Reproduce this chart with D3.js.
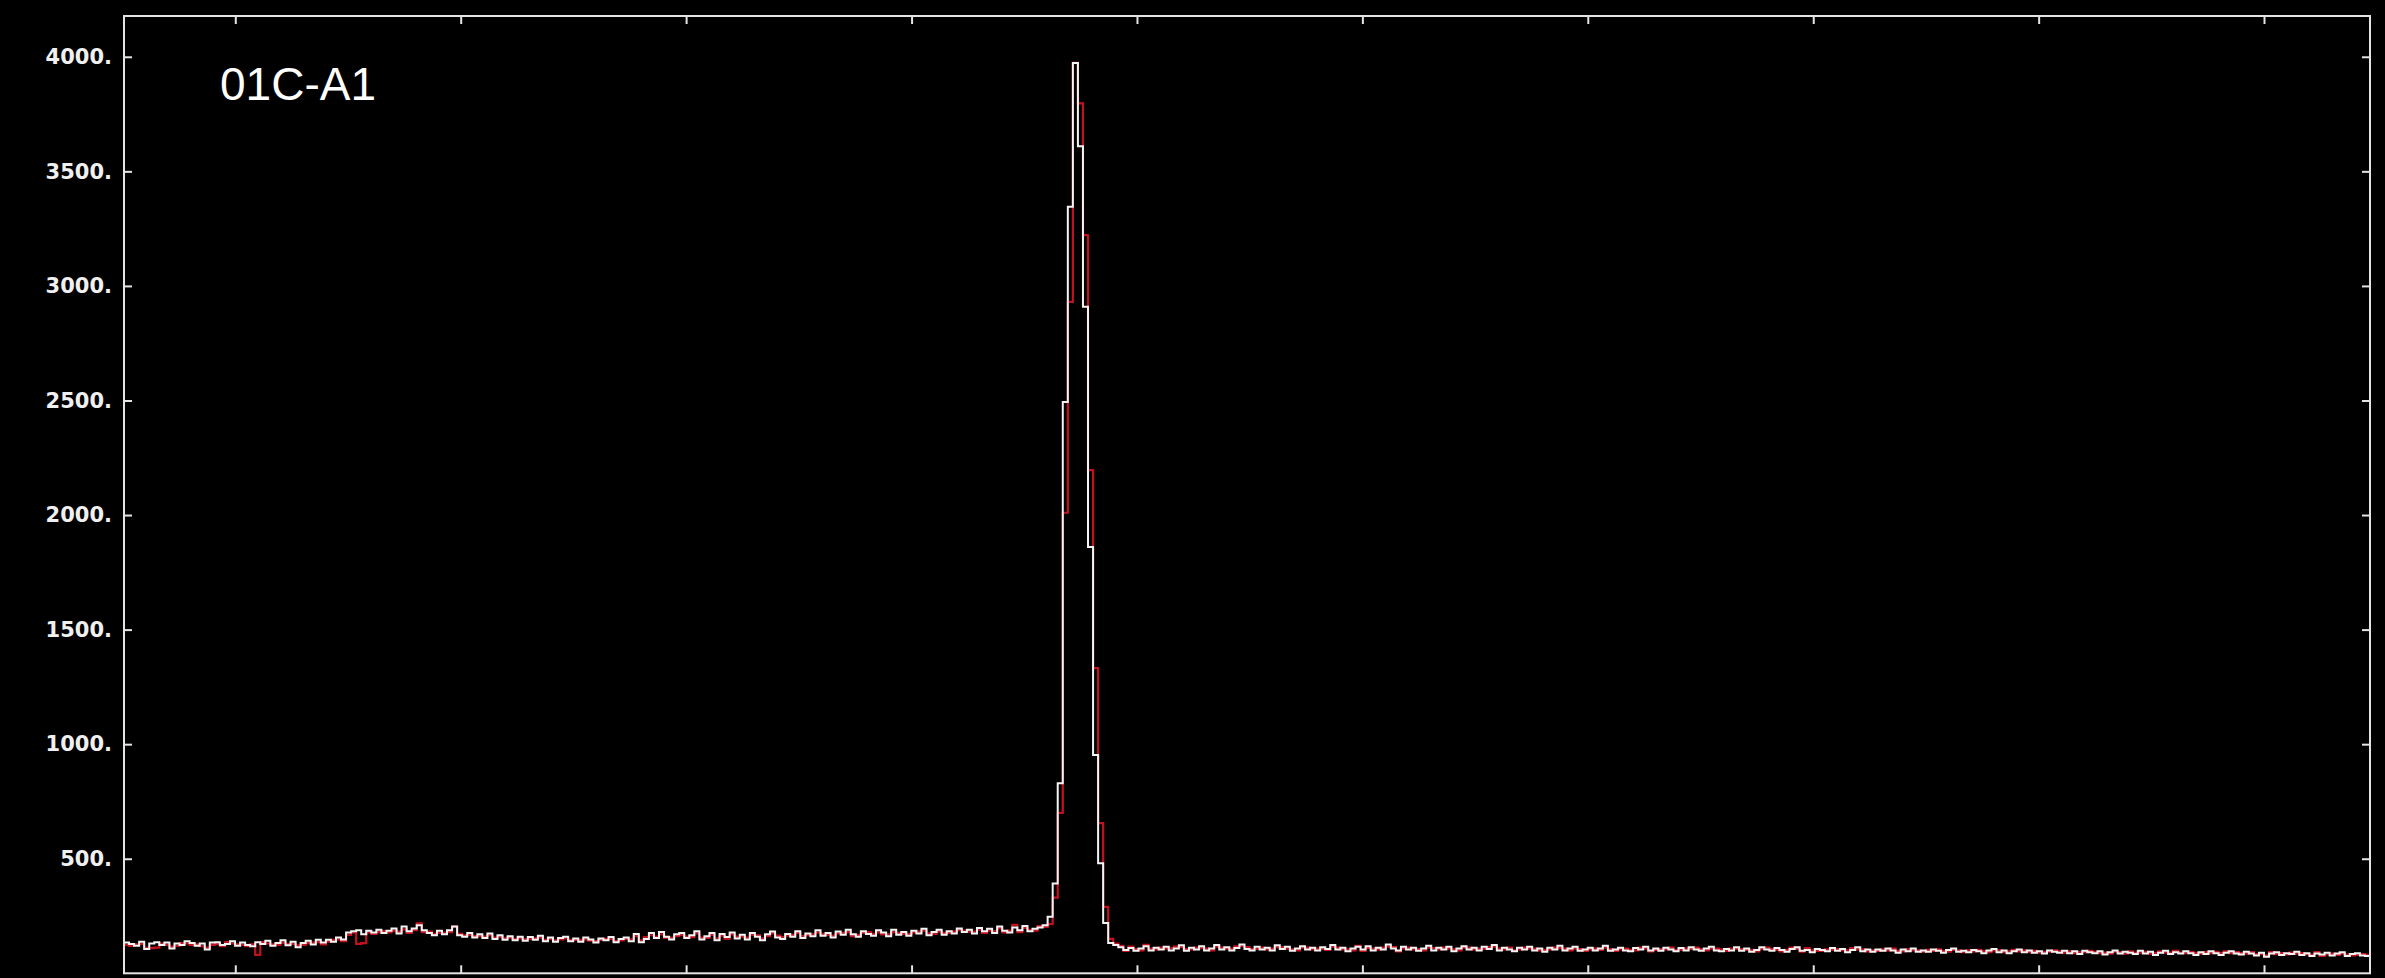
<!DOCTYPE html>
<html>
<head>
<meta charset="utf-8">
<script src="https://cdn.jsdelivr.net/npm/d3@7"></script>
<style>
  html, body { margin: 0; padding: 0; background: #000; }
  svg { display: block; }
</style>
</head>
<body>
<div id="chart"></div>
<script>
// ---- data ----
const title = "01C-A1";
const nChannels = 445;
const yTicks = [500, 1000, 1500, 2000, 2500, 3000, 3500, 4000];
// x tick marks (channel units), this axis has no labels
const xTicks = [22.05, 66.71, 111.37, 156.04, 200.70, 245.36, 290.02, 334.69, 379.35, 424.0];

// white histogram: channels 0-182, peak 183-195, tail 196-444
const whiteLow = [
  134,128,120,138,106,130,136,124,134,108,
  130,124,140,132,120,130,104,134,136,124,
  128,140,120,134,124,118,136,128,142,120,
  132,144,122,138,114,132,142,126,146,134,
  146,138,156,148,178,184,188,170,186,178,
  190,176,186,196,174,204,184,196,210,188,
  176,166,186,170,188,204,166,160,176,156,
  170,154,174,150,166,146,162,144,160,142,
  158,146,164,140,156,138,154,160,140,152,
  138,156,148,134,152,144,158,136,150,156,
  140,172,136,150,176,154,180,160,148,170,
  176,154,166,184,148,162,176,144,172,158,
  178,152,168,148,176,160,144,170,182,156,
  150,172,160,184,154,174,162,188,164,176,
  156,182,168,190,170,160,184,172,164,188,
  178,162,190,168,180,164,186,174,194,166,
  180,190,168,184,174,196,180,190,174,198,
  184,194,176,204,186,178,200,188,206,184,
  194,200,210
];
const whitePeak = [247, 392, 829, 2493, 3345, 3973, 3610, 2909, 1861, 953, 480, 220, 132];
const whiteTail = [
  124,114,102,110,98,108,118,100,112,104,
  116,100,108,122,98,112,104,118,100,108,
  124,104,114,100,110,126,106,100,116,104,
  112,100,122,106,116,98,108,118,104,112,
  100,114,106,124,104,112,96,108,116,104,
  118,100,112,104,126,108,100,116,104,112,
  98,108,120,100,112,104,116,96,108,118,
  104,112,100,116,106,124,100,112,104,96,
  112,104,116,100,108,94,112,104,120,100,
  108,116,98,104,112,100,108,120,98,104,
  112,100,96,110,104,116,100,108,98,112,
  104,96,110,100,114,104,98,108,116,100,
  96,106,100,114,98,108,94,102,114,104,
  98,110,102,94,106,114,98,102,92,106,
  102,96,110,98,106,92,102,114,96,104,
  94,104,98,108,100,90,104,96,108,94,
  100,94,104,98,90,102,108,94,98,92,
  102,96,88,100,106,92,100,88,96,104,
  92,100,90,96,86,100,94,90,98,88,
  96,84,98,92,88,96,82,92,100,86,
  94,90,84,98,86,94,80,90,98,84,
  92,86,96,88,80,92,84,96,88,80,
  90,96,86,82,94,86,78,90,72,86,
  92,80,88,84,94,80,88,76,86,82,
  90,78,86,92,76,84,88,78,76
];

// red histogram, drawn under the white one
const redLow = [
  124,120,126,128,112,110,112,130,124,116,
  120,132,130,124,126,118,112,124,128,118,
  136,130,126,124,118,126,80,136,130,126,
  124,134,128,128,122,124,132,134,136,126,
  138,146,148,140,168,178,128,132,178,172,
  180,184,178,186,182,192,176,188,218,180,
  182,172,176,178,180,204,172,166,168,162,
  162,160,166,156,160,152,156,150,152,148,
  150,152,156,146,150,144,148,152,146,146,
  146,148,142,140,146,150,150,142,144,150,
  148,162,144,158,166,160,170,154,156,162,
  168,160,158,174,156,154,168,152,164,150,
  170,160,160,156,168,166,152,162,174,164,
  158,164,168,176,162,166,170,178,172,168,
  164,174,176,180,162,168,176,180,172,178,
  170,170,180,176,172,172,178,182,186,174,
  172,182,176,176,182,188,186,182,182,190,
  176,186,184,196,178,186,211,180,198,190,
  186,206,202
];
const redPeak = [215, 330, 700, 2010, 2930, 3973, 3797, 3222, 2196, 1332, 655, 290, 150];
const redTail = [
  130,120,98,116,106,100,124,108,104,112,
  108,110,116,114,106,104,112,110,108,100,
  116,112,108,108,118,118,114,106,106,112,
  104,108,114,114,108,104,100,112,112,104,
  108,106,102,116,112,104,104,100,120,98,
  110,108,104,112,116,114,96,108,112,104,
  106,100,112,110,104,112,108,104,100,112,
  112,104,108,106,114,116,108,104,112,100,
  104,112,108,108,100,102,104,112,110,108,
  100,108,106,98,104,108,102,112,106,98,
  104,108,102,100,112,108,96,102,106,104,
  112,102,102,108,106,112,106,100,108,108,
  104,98,108,106,106,102,102,96,106,112,
  106,102,96,102,112,106,94,110,100,98,
  98,104,102,106,100,100,110,104,104,96,
  100,98,104,100,108,98,96,104,100,100,
  94,102,98,104,98,94,102,100,92,100,
  96,102,96,92,100,100,92,96,102,96,
  100,92,98,90,94,94,100,96,90,96,
  88,92,92,98,94,88,90,86,94,92,
  86,96,90,90,94,86,88,96,90,90,
  98,90,88,94,88,86,92,88,94,88,
  96,88,92,88,86,92,84,84,78,92,
  84,88,82,90,86,88,82,82,92,76,
  82,86,80,86,82,78,80,84,80
];

const whiteCounts = whiteLow.concat(whitePeak, whiteTail);
const redCounts = redLow.concat(redPeak, redTail);

// ---- layout ----
const W = 2385, H = 978;
const plot = { left: 124, right: 2370, top: 16, bottom: 973.3 };
const yMax = 4178;

const svg = d3.select("#chart").append("svg")
  .attr("width", W)
  .attr("height", H)
  .style("background", "#000");

const x = d3.scaleLinear().domain([0, nChannels]).range([plot.left, plot.right]);
const y = d3.scaleLinear().domain([0, yMax]).range([plot.bottom, plot.top]);

svg.append("clipPath").attr("id", "plotclip")
  .append("rect")
  .attr("x", plot.left).attr("y", plot.top)
  .attr("width", plot.right - plot.left)
  .attr("height", plot.bottom - plot.top);

// step line through the bins
const step = d3.line()
  .x(d => x(d[0]))
  .y(d => y(d[1]))
  .curve(d3.curveStepAfter);

function binPoints(counts) {
  const pts = counts.map((v, i) => [i, v]);
  pts.push([counts.length, counts[counts.length - 1]]);
  return pts;
}

const g = svg.append("g").attr("clip-path", "url(#plotclip)");

g.append("path")
  .datum(binPoints(redCounts))
  .attr("d", step)
  .attr("fill", "none")
  .attr("stroke", "#c3121f")
  .attr("stroke-width", 2.2);

g.append("path")
  .datum(binPoints(whiteCounts))
  .attr("d", step)
  .attr("fill", "none")
  .attr("stroke", "#f4f4f4")
  .attr("stroke-width", 2);

// axes: ticks point inward on all four sides
const tickColor = "#e4e4e4";

const left = svg.append("g")
  .attr("transform", "translate(" + plot.left + ",0)")
  .call(d3.axisLeft(y).tickValues(yTicks).tickSize(-8).tickPadding(12).tickFormat(d => d + "."));
left.selectAll("text")
  .style("font-family", '"DejaVu Sans", sans-serif')
  .style("font-weight", "bold")
  .style("font-size", "21px")
  .attr("fill", "#f0f0f0");

svg.append("g")
  .attr("transform", "translate(" + plot.right + ",0)")
  .call(d3.axisRight(y).tickValues(yTicks).tickSize(-8).tickFormat(""));

svg.append("g")
  .attr("transform", "translate(0," + plot.top + ")")
  .call(d3.axisTop(x).tickValues(xTicks).tickSize(-8).tickFormat(""));

svg.append("g")
  .attr("transform", "translate(0," + plot.bottom + ")")
  .call(d3.axisBottom(x).tickValues(xTicks).tickSize(-8).tickFormat(""));

svg.selectAll(".domain").remove();
svg.selectAll(".tick line").attr("stroke", tickColor).attr("stroke-width", 2);

// frame
svg.append("rect")
  .attr("x", plot.left).attr("y", plot.top)
  .attr("width", plot.right - plot.left)
  .attr("height", plot.bottom - plot.top)
  .attr("fill", "none")
  .attr("stroke", tickColor)
  .attr("stroke-width", 2);

// label in the corner
svg.append("text")
  .attr("x", 220)
  .attr("y", 100)
  .style("font-family", '"Liberation Sans", Arial, sans-serif')
  .style("font-size", "46px")
  .attr("fill", "#ffffff")
  .text(title);
</script>
</body>
</html>
